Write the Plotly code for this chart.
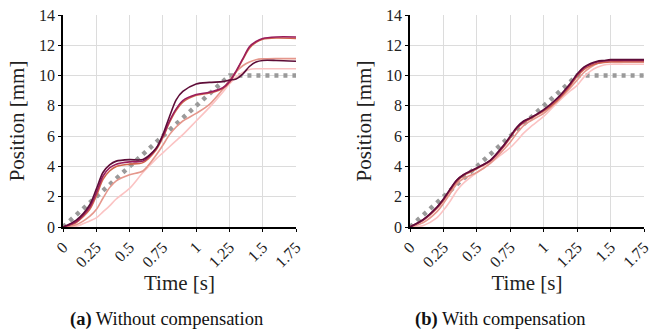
import plotly.graph_objects as go

# ---------------- data ----------------
T = [0, 0.1, 0.2, 0.25, 0.3, 0.35, 0.4, 0.5, 0.6, 0.7, 0.75, 0.8, 0.85, 0.9,
     1.0, 1.1, 1.2, 1.25, 1.3, 1.35, 1.4, 1.45, 1.5, 1.6, 1.75]

ref_t = [0, 1.25, 1.75]
ref_y = [0, 10, 10]

left_dark    = [0, 0.45, 1.45, 2.5, 3.6, 4.1, 4.35, 4.45, 4.45, 5.2, 6.1, 7.3, 8.4, 8.95,
                9.45, 9.55, 9.6, 9.7, 9.78, 10.1, 10.6, 10.9, 11.0, 11.0, 10.95]
left_crimson = [0, 0.35, 1.3, 2.25, 3.35, 3.9, 4.15, 4.3, 4.35, 5.2, 6.0, 7.0, 7.8, 8.35,
                8.75, 8.9, 9.2, 9.6, 10.3, 11.1, 11.9, 12.25, 12.45, 12.55, 12.55]
left_orange  = [0, 0.3, 1.15, 2.05, 3.15, 3.7, 4.0, 4.15, 4.25, 5.1, 5.9, 6.9, 7.7, 8.25,
                8.7, 8.85, 9.15, 9.55, 10.25, 11.05, 11.8, 12.2, 12.4, 12.48, 12.45]
left_salmon  = [0, 0.15, 0.7, 1.15, 1.9, 2.6, 3.05, 3.45, 3.7, 4.75, 5.4, 6.1, 6.6, 7.0,
                7.5, 8.1, 9.1, 9.7, 10.25, 10.65, 10.9, 11.05, 11.1, 11.12, 11.12]
left_pink    = [0, 0.05, 0.4, 0.6, 1.0, 1.4, 1.85, 2.55, 3.6, 4.5, 4.9, 5.3, 5.7, 6.1,
                7.0, 7.9, 8.9, 9.45, 9.9, 10.2, 10.4, 10.45, 10.45, 10.45, 10.45]

right_dark    = [0, 0.5, 1.3, 1.85, 2.5, 3.1, 3.45, 3.9, 4.4, 5.4, 6.0, 6.6, 7.0, 7.2,
                 7.75, 8.5, 9.5, 10.1, 10.55, 10.8, 10.95, 11.0, 11.05, 11.05, 11.05]
right_crimson = [0, 0.48, 1.28, 1.82, 2.48, 3.08, 3.45, 3.9, 4.38, 5.35, 5.95, 6.55, 6.95, 7.2,
                 7.72, 8.45, 9.45, 10.05, 10.5, 10.75, 10.9, 10.97, 11.0, 11.0, 11.0]
right_orange  = [0, 0.45, 1.22, 1.75, 2.4, 3.0, 3.4, 3.85, 4.35, 5.3, 5.9, 6.5, 6.9, 7.15,
                 7.65, 8.35, 9.35, 9.95, 10.4, 10.65, 10.8, 10.87, 10.9, 10.9, 10.9]
right_salmon  = [0, 0.3, 1.0, 1.55, 2.2, 2.85, 3.2, 3.6, 4.2, 5.1, 5.6, 6.2, 6.7, 7.0,
                 7.5, 8.3, 9.2, 9.7, 10.2, 10.55, 10.8, 10.9, 10.95, 10.95, 10.95]
right_pink    = [0, 0.1, 0.6, 1.1, 1.7, 2.4, 2.9, 3.6, 4.2, 4.9, 5.25, 5.7, 6.2, 6.6,
                 7.3, 8.2, 9.0, 9.35, 9.9, 10.3, 10.55, 10.7, 10.75, 10.75, 10.75]

x_ticks = [0, 0.25, 0.5, 0.75, 1, 1.25, 1.5, 1.75]
x_labels = ["0", "0.25", "0.5", "0.75", "1", "1.25", "1.5", "1.75"]
y_ticks = [0, 2, 4, 6, 8, 10, 12, 14]
y_labels = ["0", "2", "4", "6", "8", "10", "12", "14"]

colors = ["#fbc3c3", "#e5978c", "#d0644c", "#9a1d5c", "#5e0d38"]

# ---------------- figure ----------------
FAM = "Liberation Serif"

def serif(txt):
    return "<span style='font-family:Liberation Serif'>" + txt + "</span>"

fig = go.Figure()

panels = [
    ("x", "y", [left_pink, left_salmon, left_orange, left_crimson, left_dark]),
    ("x2", "y2", [right_pink, right_salmon, right_orange, right_crimson, right_dark]),
]
for xa, ya, series in panels:
    fig.add_trace(go.Scatter(x=ref_t, y=ref_y, xaxis=xa, yaxis=ya, mode="lines",
                             line=dict(color="#9a9a9a", width=4.5, dash="4px,5px"),
                             showlegend=False, hoverinfo="skip"))
    for s, c in zip(series, colors):
        fig.add_trace(go.Scatter(x=T, y=s, xaxis=xa, yaxis=ya, mode="lines",
                                 line=dict(color=c, width=1.6, shape="spline", smoothing=0.8),
                                 showlegend=False, hoverinfo="skip"))

W, H = 653, 335
ytop, ybot = 15, 227
ydom = [(H - ybot) / H, (H - ytop) / H]

def xax(dom):
    return dict(domain=dom, range=[0, 1.75], tickvals=x_ticks,
                ticktext=[serif(t) for t in x_labels],
                tickangle=-45, showgrid=True, gridcolor="#dcdcdc", gridwidth=1.3,
                showline=True, linecolor="black", linewidth=1.6, ticks="outside",
                ticklen=3, tickwidth=1.3, tickcolor="black", zeroline=False,
                automargin=False,
                tickfont=dict(family=FAM, size=16, color="#222"),
                title=dict(text=serif("Time [s]"), font=dict(family=FAM, size=21, color="#222"),
                           standoff=4),
                mirror=False, fixedrange=True)

def yax(dom, anchor):
    return dict(domain=ydom, range=[0, 14], tickvals=y_ticks,
                ticktext=[serif(t) for t in y_labels], anchor=anchor,
                showgrid=True, gridcolor="#dcdcdc", gridwidth=1.3,
                showline=True, linecolor="black", linewidth=1.6, ticks="outside",
                ticklen=3, tickwidth=1.3, tickcolor="black", zeroline=False,
                automargin=False,
                tickfont=dict(family=FAM, size=16, color="#222"),
                title=dict(text=serif("Position [mm]"), font=dict(family=FAM, size=21, color="#222"),
                           standoff=9),
                fixedrange=True)

fig.update_layout(
    template="none",
    width=W, height=H,
    margin=dict(l=0, r=0, t=0, b=0),
    paper_bgcolor="white", plot_bgcolor="white",
    font=dict(family=FAM),
    xaxis=dict(**xax([63 / W, 296 / W]), anchor="y"),
    yaxis=yax(ydom, "x"),
    xaxis2=dict(**xax([410 / W, 644 / W]), anchor="y2"),
    yaxis2=yax(ydom, "x2"),
)

fig.add_annotation(text=serif("<b>(a)</b> Without compensation"), x=166 / W, y=(H - 319) / H,
                   xref="paper", yref="paper", showarrow=False, xanchor="center", yanchor="middle",
                   font=dict(family=FAM, size=18.5, color="#111"))
fig.add_annotation(text=serif("<b>(b)</b> With compensation"), x=500 / W, y=(H - 319) / H,
                   xref="paper", yref="paper", showarrow=False, xanchor="center", yanchor="middle",
                   font=dict(family=FAM, size=18.5, color="#111"))

fig.write_html("out.html")
